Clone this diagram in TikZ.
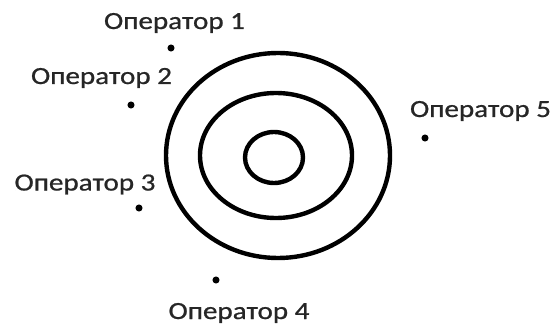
\documentclass[tikz,border=0pt]{standalone}
\usepackage{fontspec}
\setmainfont{Carlito}
\newfontfamily\opfont[FakeBold=0.7]{Carlito}
\usepackage{graphicx}
\begin{document}
\begin{tikzpicture}[x=0.75pt,y=-0.75pt,
  ring/.style={draw=black,line width=3.3pt},
  opdot/.style={circle,fill=black,inner sep=0pt,minimum size=5.3pt},
  oplabel/.style={anchor=base,inner sep=0pt,font=\opfont\fontsize{18.5pt}{20pt}\selectfont,text=black!85}]
\useasboundingbox (0,0) rectangle (555,331);
\draw[ring] (278,155.5) ellipse [x radius=112, y radius=102.5];
\draw[ring] (276,155.5) ellipse [x radius=76, y radius=62.5];
\draw[ring] (274,157.5) ellipse [x radius=29, y radius=25.5];
\node[opdot] (d1) at (171,48) {};
\node[opdot] (d2) at (131,105) {};
\node[opdot] (d3) at (139,208) {};
\node[opdot] (d4) at (216,280) {};
\node[opdot] (d5) at (425,138) {};
\node[oplabel] (l1) at (174.5,29) {\scalebox{1.18}[1]{Оператор 1}};
\node[oplabel] (l2) at (101.5,84) {\scalebox{1.18}[1]{Оператор 2}};
\node[oplabel] (l3) at (85,190.5) {\scalebox{1.18}[1]{Оператор 3}};
\node[oplabel] (l4) at (239,319) {\scalebox{1.18}[1]{Оператор 4}};
\node[oplabel] (l5) at (480.5,117) {\scalebox{1.18}[1]{Оператор 5}};
\end{tikzpicture}
\end{document}
